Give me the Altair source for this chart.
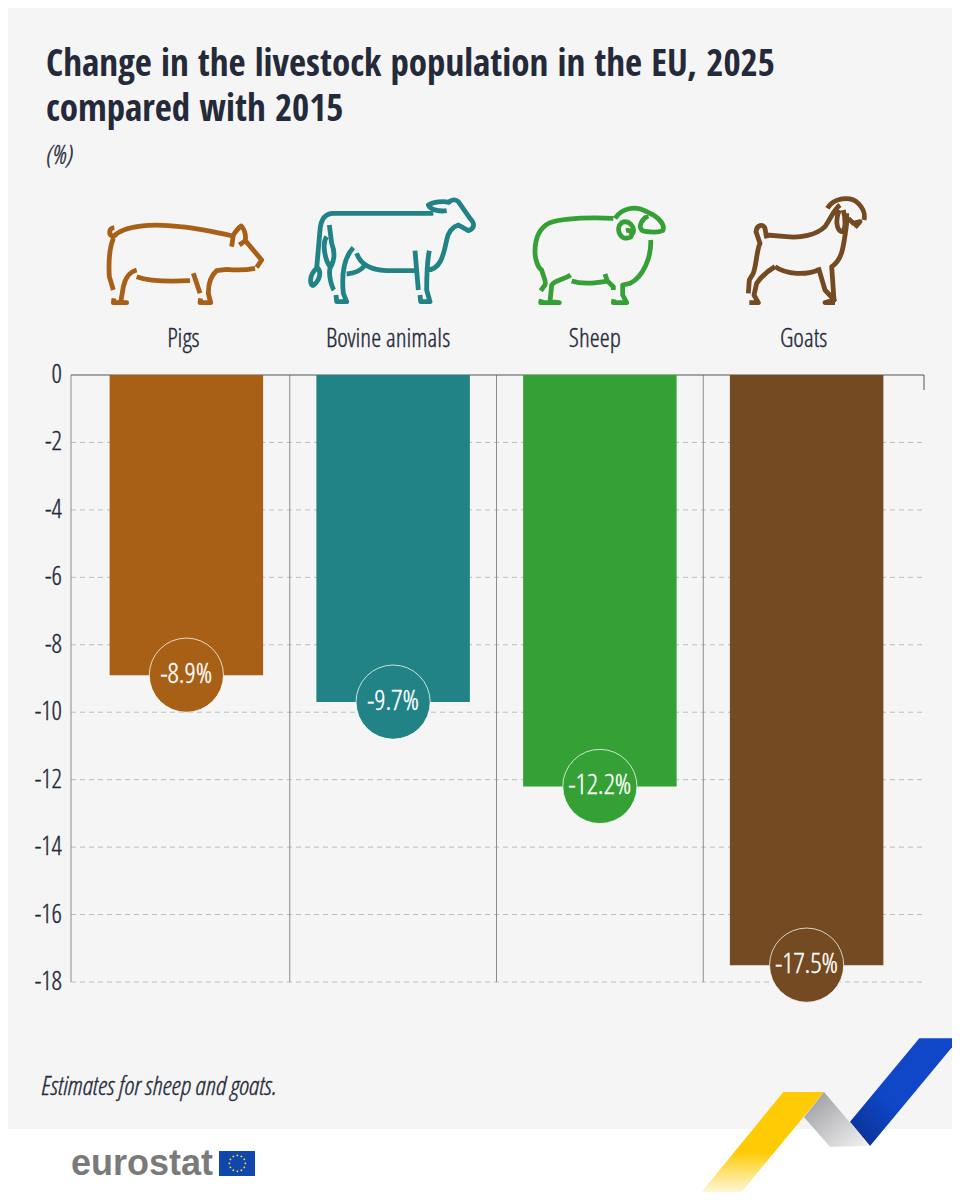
import math
import re

import altair as alt
import pandas as pd

categories = ["Pigs", "Bovine animals", "Sheep", "Goats"]
values = [-8.9, -9.7, -12.2, -17.5]
value_labels = ["-8.9%", "-9.7%", "-12.2%", "-17.5%"]
colors = ["#A86016", "#218385", "#35A035", "#734A21"]
name_shift = [-3, -5, -5, -3]
ticks = [-2, -4, -6, -8, -10, -12, -14, -16, -18]
tick_labels = ["-2", "-4", "-6", "-8", "-10", "-12", "-14", "-16", "-18"]

title_lines = ["Change in the livestock population in the EU, 2025", "compared with 2015"]
unit_label = "(%)"
note = "Estimates for sheep and goats."

INK = "#252A3A"
NARROW = "Open Sans Condensed, Roboto Condensed, Noto Sans Condensed, DejaVu Sans Condensed, Lato"
LIGHT = "Open Sans Condensed Light, Open Sans CondLight, " + NARROW

PIG = (
    "M103 143 C85 145 85 165 100 170 C130 135 220 130 300 140 C350 145 400 155 458 168 "
    "M455 200 L460 165 C470 150 480 140 484 138 C495 150 498 165 496 182 L545 240 L530 262 "
    "M478 195 L496 182 "
    "M525 265 C490 272 460 270 440 268 L410 272 C395 285 385 310 385 340 L392 368 L360 368 L362 355 "
    "M170 290 C210 305 270 305 330 302 M340 280 L360 340 "
    "M170 270 C150 275 135 295 130 320 L122 368 L140 368 L100 368 L102 355 "
    "M100 175 C90 200 85 240 88 290 L100 330"
)
COW = (
    "M1060 100 L760 100 C730 100 722 125 720 150 L710 265 C685 285 690 320 700 316 C720 300 725 275 712 262 "
    "M748 135 L755 190 C765 215 765 240 750 265 C745 285 755 320 762 330 "
    "M740 170 C725 190 735 240 750 260 "
    "M820 203 C790 235 785 290 790 340 L800 365 L770 365 L768 345 "
    "M830 220 C840 250 870 270 920 272 L1015 272 M800 282 C825 280 845 270 855 255 "
    "M1005 212 L1015 330 M1048 212 C1040 250 1040 290 1040 330 L1050 365 L1022 365 L1020 345 "
    "M1040 270 C1080 270 1090 230 1100 180 C1105 155 1120 140 1135 135 L1165 152 "
    "C1185 145 1185 130 1170 115 L1135 65 C1125 55 1110 60 1105 70 "
    "M1100 92 C1080 95 1050 90 1045 75 C1060 65 1090 62 1110 68"
)
SHEEP = (
    "M340 115 C260 112 190 115 150 128 C115 145 105 180 105 215 C105 240 115 265 125 270 "
    "C130 290 140 305 135 315 L122 332 "
    "M345 115 C365 85 405 75 440 95 L460 105 C485 120 495 140 488 152 C470 160 430 155 425 150 "
    "C415 140 425 115 445 108 "
    "M398 162 C408 140 385 118 365 128 C345 145 360 185 390 172 C400 166 395 148 378 152 "
    "M452 180 C455 230 430 290 390 310 L368 315 L368 345 L380 368 L340 368 L342 358 "
    "M215 303 C250 315 290 308 325 303 M315 282 L322 303 L340 320 L340 330 "
    "M212 285 C190 300 165 300 155 315 L150 365 L178 368 L122 368 L124 358"
)
GOAT = (
    "M982 85 C1000 55 1050 45 1075 70 C1095 90 1095 105 1092 120 "
    "M1020 75 C1000 90 990 120 975 140 C950 165 900 175 860 170 L800 165 "
    "M800 175 L795 145 C790 130 770 135 768 155 L780 190 C770 210 770 250 760 280 L748 300 L745 340 "
    "M825 260 C800 275 780 295 770 310 L762 345 L775 368 L748 368 "
    "M825 260 C860 285 920 285 955 270 M955 262 L975 330 L1003 360 L975 368 L1005 368 "
    "M1002 360 L995 260 C1025 240 1030 210 1040 130 L1040 100 "
    "M1018 90 C1005 120 1010 150 1025 155 C1040 150 1035 110 1030 90 "
    "M1045 115 L1060 130 L1080 125 L1065 142"
)
RIBBON_YELLOW = "M370 216 L492 216 L225 540 L105 540 Z"
RIBBON_GREY = "M492 216 L630 378 L510 380 L432 292 Z"
RIBBON_BLUE = "M778 55 L898 55 L630 378 L570 305 Z"

one_row = pd.DataFrame({"row": [0]})
bar_data = pd.DataFrame(
    {"category": categories, "value": values, "label": value_labels, "color": colors}
)


def unit_path(path, scale=300):
    # vega scales a custom symbol by sqrt(size)/2, so with size 40000 one unit is 100px
    return re.sub(r"-?\d+(\.\d+)?", lambda m: f"{float(m.group(0)) / scale:.4f}", path)


def shape_at(path, left, top, **mark_args):
    return (
        alt.Chart(one_row)
        .mark_point(shape=unit_path(path), size=40000, opacity=1, **mark_args)
        .encode(x=alt.value(left - 8), y=alt.value(top - 8))
    )


def outline(path, left, top, color):
    return shape_at(
        path, left, top, filled=False, stroke=color, strokeWidth=4.8,
        strokeCap="butt", strokeJoin="round",
    )


def ribbon(path, stops, x1, y1, x2, y2):
    fill = alt.LinearGradient(
        gradient="linear",
        stops=[alt.GradientStop(color=c, offset=o) for o, c in stops],
        x1=x1, y1=y1, x2=x2, y2=y2,
    )
    return shape_at(path, 660, 1020, filled=True, fill=fill)


def text_at(text, left, base, **mark_args):
    return (
        alt.Chart(pd.DataFrame({"text": [text]}))
        .mark_text(align="left", baseline="alphabetic", **mark_args)
        .encode(x=alt.value(left - 8), y=alt.value(base - 8), text="text:N")
    )


def box(left, right, top, bottom, color):
    return (
        alt.Chart(one_row)
        .mark_rect(color=color)
        .encode(
            x=alt.value(left - 8), x2=alt.value(right - 8),
            y=alt.value(top - 8), y2=alt.value(bottom - 8),
        )
    )


def line(x1, x2, y1, y2, color, width=1):
    return (
        alt.Chart(one_row)
        .mark_rule(color=color, strokeWidth=width)
        .encode(
            x=alt.value(x1 - 8), x2=alt.value(x2 - 8),
            y=alt.value(y1 - 8), y2=alt.value(y2 - 8),
        )
    )


x_scale = alt.Scale(domain=categories, range=[75, 902], paddingInner=0, paddingOuter=0)
y_scale = alt.Scale(domain=[0, -18], range=[367, 974], nice=False)
x_band = alt.X("category:N", scale=x_scale, axis=None)
y_value = alt.Y("value:Q", scale=y_scale, axis=None)

tick_data = pd.DataFrame({"tick": [0] + ticks, "label": ["0"] + tick_labels})

# the light face is thinner than the original, a hairline stroke brings it closer
light_text = dict(font=LIGHT, fontWeight=300, strokeWidth=0.35)

grid = (
    alt.Chart(tick_data.iloc[1:])
    .mark_rule(color="#BDBDBD", strokeDash=[5, 4], strokeWidth=1)
    .encode(
        y=alt.Y("tick:Q", scale=y_scale, axis=None),
        x=alt.value(71 - 8),
        x2=alt.value(922 - 8),
    )
)
tick_text = (
    alt.Chart(tick_data)
    .mark_text(fontSize=26, fill=INK, stroke=INK, align="right", baseline="middle", **light_text)
    .encode(
        y=alt.Y("tick:Q", scale=y_scale, axis=None),
        x=alt.value(62 - 8),
        text="label:N",
    )
)
separators = (
    alt.Chart(bar_data.iloc[1:])
    .mark_rule(color="#8C8C8C", strokeWidth=1)
    .encode(
        x=alt.X("category:N", scale=x_scale, axis=None, bandPosition=0),
        y=alt.value(375 - 8),
        y2=alt.value(982 - 8),
    )
)
bars = (
    alt.Chart(bar_data)
    .mark_bar(width=153.5)
    .encode(
        x=x_band,
        y=y_value,
        color=alt.Color("color:N", scale=None),
    )
)
badges = (
    alt.Chart(bar_data)
    .mark_point(filled=True, opacity=1, size=5500, shape="circle", stroke="#FFFFFF", strokeWidth=1, strokeOpacity=0.75)
    .encode(x=x_band, y=y_value, fill=alt.Color("color:N", scale=None))
)
badge_text = (
    alt.Chart(bar_data)
    .mark_text(fontSize=28, fill="#FFFFFF", stroke="#FFFFFF", align="center", baseline="middle", **light_text)
    .encode(x=x_band, y=y_value, text="label:N")
)

name_layers = [
    alt.Chart(bar_data.iloc[[i]])
    .mark_text(fontSize=25.5, fill=INK, stroke=INK, align="center", baseline="alphabetic", dx=name_shift[i], **light_text)
    .encode(x=x_band, y=alt.value(347 - 8), text="category:N")
    for i in range(len(categories))
]

# twelve dots on the flag
stars = " ".join(
    "M{0:.1f} {2:.1f} L{1:.1f} {3:.1f} L{0:.1f} {4:.1f} L{5:.1f} {3:.1f} Z".format(
        cx, cx + 3.5, cy - 3.5, cy, cy + 3.5, cx - 3.5
    )
    for cx, cy in (
        (622 + 24 * math.cos(math.pi * k / 6), 310 + 24 * math.sin(math.pi * k / 6))
        for k in range(12)
    )
)

layers = [
    box(0, 952, 1129, 1192, "#FFFFFF"),
    text_at(title_lines[0], 46, 76, font=NARROW, fontSize=37, fontWeight="bold", color=INK),
    text_at(title_lines[1], 46, 121, font=NARROW, fontSize=37, fontWeight="bold", color=INK),
    text_at(unit_label, 46, 164, fontSize=26, fontStyle="italic", fill=INK, stroke=INK, **light_text),
    outline(PIG, 80, 180, colors[0]),
    outline(COW, 80, 180, colors[1]),
    outline(SHEEP, 500, 180, colors[2]),
    outline(GOAT, 500, 180, colors[3]),
    *name_layers,
    tick_text,
    grid,
    separators,
    line(71, 71, 375, 982, "#8C8C8C"),
    line(71, 924, 375, 375, "#555555"),
    line(924, 924, 375, 390, "#555555"),
    bars,
    badges,
    badge_text,
    text_at(note, 41, 1095, fontSize=26, fontStyle="italic", fill=INK, stroke=INK, **light_text),
    text_at("eurostat", 71, 1175, font="Liberation Sans", fontSize=36, fontWeight="bold", color="#7A7A7A"),
    box(219, 255, 1151, 1176, "#0F47AF"),
    shape_at(stars, 30, 1060, filled=True, fill="#FFD617"),
    ribbon(RIBBON_BLUE, [(0, "#0F47C8"), (0.6, "#0F47C8"), (1, "#0A2F8E")], 1, 0, 0, 1),
    ribbon(RIBBON_YELLOW, [(0, "#FFFFFF"), (0.45, "#FFCB05"), (1, "#FFCB05")], 0, 1, 0, 0),
    ribbon(RIBBON_GREY, [(0, "#97979C"), (1, "#F4F4F4")], 0, 0, 1, 1),
]

chart = (
    alt.layer(*layers)
    .properties(
        width=944, height=1184, padding=0, background="#F5F5F5",
        autosize=alt.AutoSizeParams(type="none"),
    )
    .configure_view(stroke=None)
)
chart.save("out.html", embed_options={"renderer": "svg", "actions": False})
